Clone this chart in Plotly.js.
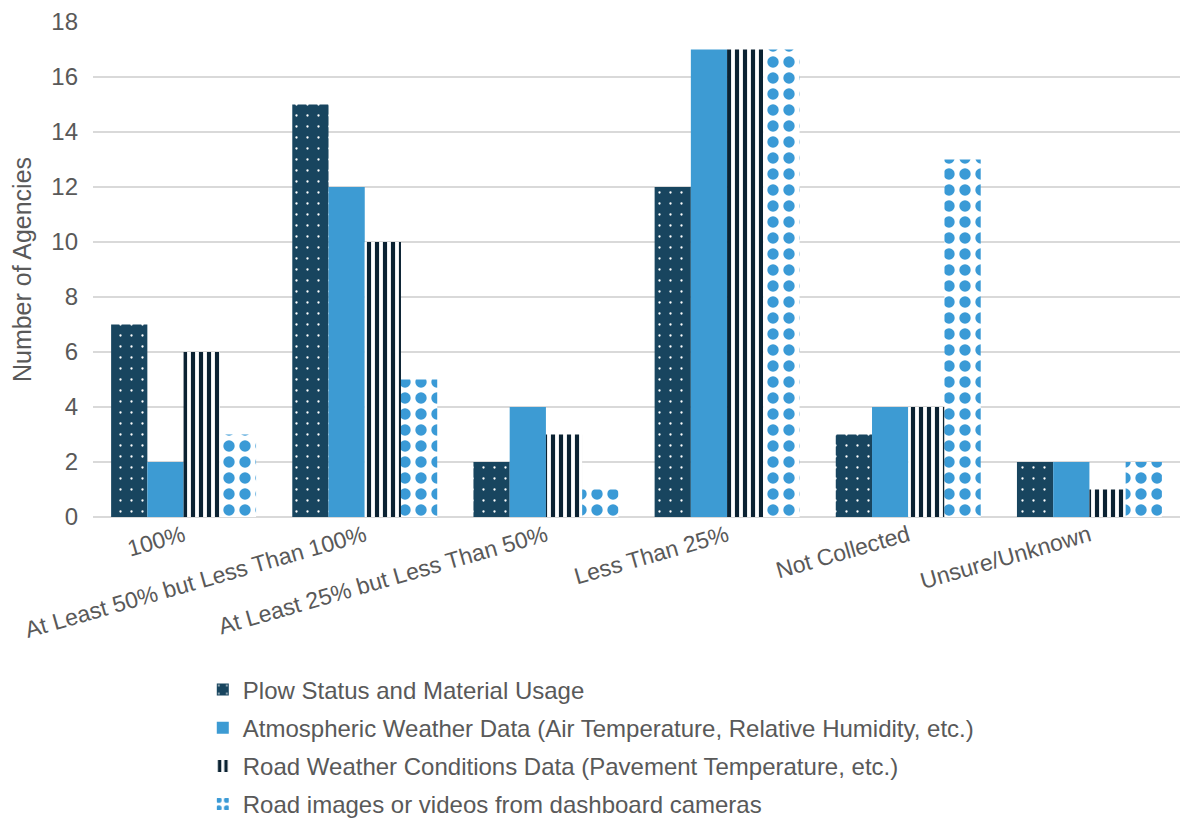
<!DOCTYPE html>
<html>
<head>
<meta charset="utf-8">
<script src="https://cdn.plot.ly/plotly-3.0.1.min.js"></script>
<style>html,body{margin:0;padding:0;background:#fff;}#chart{width:1188px;height:836px;}</style>
</head>
<body>
<div id="chart"></div>
<script>
const categories = ["100%", "At Least 50% but Less Than 100%", "At Least 25% but Less Than 50%", "Less Than 25%", "Not Collected", "Unsure/Unknown"];
const seriesNames = [
  "Plow Status and Material Usage",
  "Atmospheric Weather Data (Air Temperature, Relative Humidity, etc.)",
  "Road Weather Conditions Data (Pavement Temperature, etc.)",
  "Road images or videos from dashboard cameras"
];
const plowValues = [7, 15, 2, 12, 3, 2];
const atmosphericValues = [2, 12, 4, 17, 4, 2];
const roadWeatherValues = [6, 10, 3, 17, 4, 1];
const roadImagesValues = [3, 5, 1, 17, 13, 2];
const yTicks = [0, 2, 4, 6, 8, 10, 12, 14, 16, 18];

const textColor = '#595959';
const fam = 'Liberation Sans, Arial, sans-serif';

const traces = [
  {
    type: 'bar', name: seriesNames[0], x: categories, y: plowValues, legendgroup: 'a',
    marker: {color: '#18455F', line: {width: 0},
      pattern: {shape: '.', fgcolor: '#FFFFFF', bgcolor: '#18455F', size: 11, solidity: 0.035, fillmode: 'replace'}}
  },
  {
    type: 'bar', name: seriesNames[1], x: categories, y: atmosphericValues, legendgroup: 'b',
    marker: {color: '#3D9BD3', line: {width: 0}}
  },
  {
    type: 'bar', name: seriesNames[2], x: categories, y: roadWeatherValues, legendgroup: 'c',
    marker: {color: '#FFFFFF', line: {width: 0},
      pattern: {shape: '|', fgcolor: '#0B2232', bgcolor: '#FFFFFF', size: 8, solidity: 0.52, fillmode: 'replace'}}
  },
  {
    type: 'bar', name: seriesNames[3], x: categories, y: roadImagesValues, legendgroup: 'd',
    marker: {color: '#FFFFFF', line: {width: 0},
      pattern: {shape: '.', fgcolor: '#3A9AD6', bgcolor: '#FFFFFF', size: 16, solidity: 0.4, fillmode: 'replace'}}
  }
];

const layout = {
  width: 1188, height: 836,
  paper_bgcolor: '#FFFFFF', plot_bgcolor: '#FFFFFF',
  font: {family: fam, size: 23, color: textColor},
  margin: {l: 93, r: 8, t: 22, b: 319},
  barmode: 'group', bargap: 0.2, bargroupgap: 0,
  xaxis: {
    type: 'category', tickangle: -16, showgrid: false, zeroline: false, showline: false,
    ticks: '', tickfont: {family: fam, size: 23, color: textColor}
  },
  yaxis: {
    range: [0, 18], tickvals: yTicks, showgrid: true, gridcolor: '#D9D9D9', gridwidth: 1.5,
    zeroline: true, zerolinecolor: '#D9D9D9', zerolinewidth: 1.5, showline: false,
    ticks: '', ticklabelstandoff: 14,
    tickfont: {family: fam, size: 24, color: textColor},
    title: {text: 'Number of Agencies', font: {family: fam, size: 25, color: textColor}, standoff: 12}
  },
  showlegend: true,
  legend: {
    orientation: 'v', x: 0.101, xanchor: 'left', y: -0.625, yanchor: 'bottom',
    font: {family: fam, size: 24, color: textColor},
    tracegroupgap: 4, traceorder: 'grouped', itemwidth: 30
  }
};

Plotly.newPlot('chart', traces, layout, {displayModeBar: false, staticPlot: true});
</script>
</body>
</html>
